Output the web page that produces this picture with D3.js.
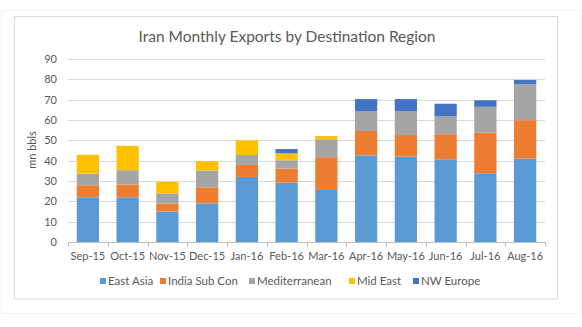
<!DOCTYPE html>
<html>
<head>
<meta charset="utf-8">
<script src="https://cdn.jsdelivr.net/npm/d3@7"></script>
<style>
  html, body { margin: 0; padding: 0; background: #fff; }
  svg { display: block; font-family: "Lato", "Open Sans", sans-serif; }
</style>
</head>
<body>
<svg id="chart" width="582" height="327"></svg>
<script>
const months = ["Sep-15","Oct-15","Nov-15","Dec-15","Jan-16","Feb-16","Mar-16","Apr-16","May-16","Jun-16","Jul-16","Aug-16"];
const eastAsia     = [22, 22, 15, 19, 32, 29.2, 25.6, 42.6, 42, 40.7, 33.8, 41];
const indiaSubCon  = [5.9, 6.3, 3.9, 7.9, 5.9, 6.9, 16.1, 12, 10.6, 12.3, 20, 18.9];
const mediterranean= [5.7, 7, 5, 8.2, 4.9, 4.1, 8.8, 9.8, 11.8, 8.8, 12.7, 17.7];
const midEast      = [9.3, 12, 5.7, 4.7, 7.2, 3.4, 1.6, 0, 0, 0, 0, 0];
const nwEurope     = [0, 0, 0, 0, 0, 2.1, 0, 5.9, 5.9, 6.2, 3.2, 2.1];
const seriesNames  = ["East Asia","India Sub Con","Mediterranean","Mid East","NW Europe"];
const seriesColors = ["#5B9BD5","#ED7D31","#A5A5A5","#FFC000","#4472C4"];
const yTicks = [0,10,20,30,40,50,60,70,80,90];
const title = "Iran Monthly Exports by Destination Region";
const yLabel = "mn bbls";

const seriesValues = [eastAsia, indiaSubCon, mediterranean, midEast, nwEurope];
const rows = months.map((m, i) => {
  const r = { month: m };
  seriesNames.forEach((s, j) => r[s] = seriesValues[j][i]);
  return r;
});

const svg = d3.select("#chart");
const pLeft = 68, pRight = 545, pTop = 59, pBottom = 242;

// outer faint frame and chart border
svg.append("rect").attr("x", 1.5).attr("y", 10.5).attr("width", 579).attr("height", 303)
  .attr("fill", "none").attr("stroke", "#f3f3f3");
svg.append("rect").attr("x", 14.5).attr("y", 16.5).attr("width", 543).attr("height", 282.5)
  .attr("fill", "#fff").attr("stroke", "#d9d9d9");

const x = d3.scaleBand().domain(months).range([pLeft, pRight]).paddingInner(0.44).paddingOuter(0.22);
const y = d3.scaleLinear().domain([0, 90]).range([pBottom, pTop]);

// gridlines
svg.append("g").selectAll("line").data(yTicks.filter(t => t > 0)).join("line")
  .attr("x1", pLeft).attr("x2", pRight)
  .attr("y1", d => Math.round(y(d)) + 0.5).attr("y2", d => Math.round(y(d)) + 0.5)
  .attr("stroke", "#d9d9d9").attr("stroke-width", 1);

// y axis labels
const yAxis = d3.axisLeft(y).tickValues(yTicks).tickSize(0).tickPadding(11);
const gy = svg.append("g").attr("transform", `translate(${pLeft},0)`).call(yAxis);
gy.select(".domain").remove();
gy.selectAll("text").attr("fill", "#595959").style("font-size", "11px")
  .style("font-family", "Lato, 'Open Sans', sans-serif");

// stacked bars
const stack = d3.stack().keys(seriesNames);
const stacked = stack(rows);
svg.append("g").selectAll("g").data(stacked).join("g")
  .attr("fill", (d, i) => seriesColors[i])
  .selectAll("rect").data(d => d).join("rect")
  .attr("x", d => x(d.data.month))
  .attr("width", x.bandwidth())
  .attr("y", d => y(d[1]))
  .attr("height", d => Math.max(0, y(d[0]) - y(d[1])));

// x axis
const xAxisG = svg.append("g");
xAxisG.append("line").attr("x1", pLeft).attr("x2", pRight)
  .attr("y1", pBottom + 0.5).attr("y2", pBottom + 0.5).attr("stroke", "#bfbfbf");
const bounds = d3.range(months.length + 1).map(i => pLeft + i * (pRight - pLeft) / months.length);
xAxisG.selectAll("line.tk").data(bounds).join("line").attr("class", "tk")
  .attr("x1", d => Math.round(d) + 0.5).attr("x2", d => Math.round(d) + 0.5)
  .attr("y1", pBottom).attr("y2", pBottom + 5).attr("stroke", "#bfbfbf");
const xAxis = d3.axisBottom(x).tickSize(0).tickPadding(10);
const gx = svg.append("g").attr("transform", `translate(0,${pBottom})`).call(xAxis);
gx.select(".domain").remove();
gx.selectAll("text").attr("fill", "#595959").style("font-size", "11px")
  .style("font-family", "Lato, 'Open Sans', sans-serif");

// title
svg.append("text").attr("x", 287).attr("y", 42).attr("text-anchor", "middle")
  .attr("fill", "#595959").style("font-size", "15.5px").text(title);

// y label
svg.append("text").attr("transform", "translate(36,150) rotate(-90)")
  .attr("text-anchor", "middle").attr("fill", "#595959").style("font-size", "11px").text(yLabel);

// legend
const legendX = [100, 160, 249, 349, 413];
const lg = svg.append("g").selectAll("g").data(seriesNames).join("g")
  .attr("transform", (d, i) => `translate(${legendX[i]},281)`);
lg.append("rect").attr("x", 0).attr("y", -3).attr("width", 6).attr("height", 6)
  .attr("fill", (d, i) => seriesColors[i]);
lg.append("text").attr("x", 8).attr("y", 4).attr("fill", "#595959")
  .style("font-size", "11.5px").text(d => d);
</script>
</body>
</html>
